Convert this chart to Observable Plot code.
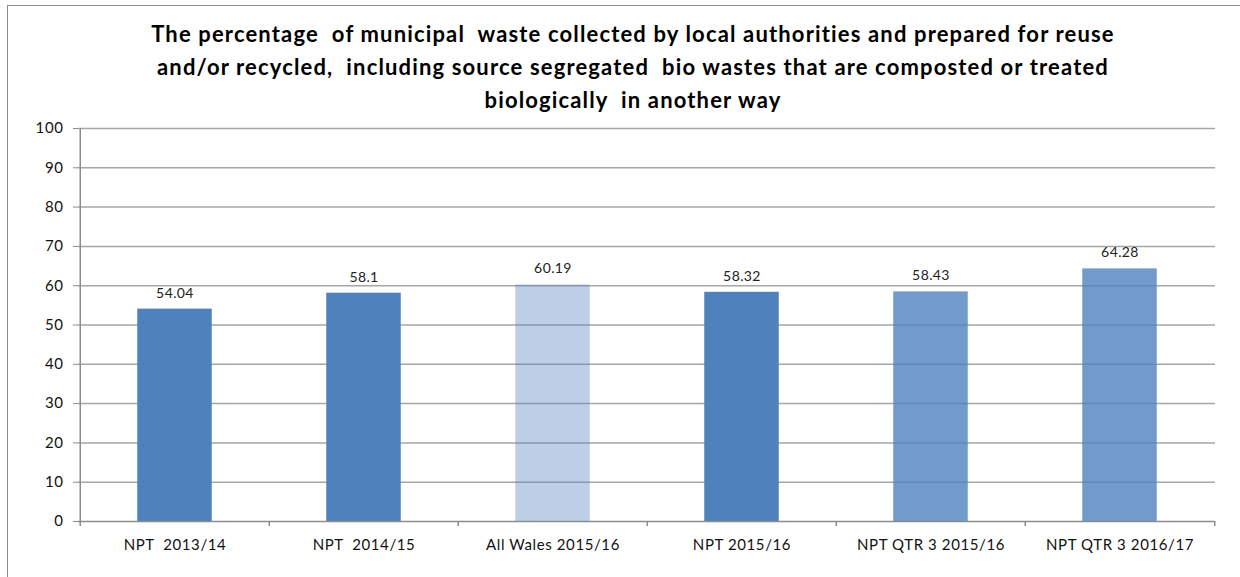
<!DOCTYPE html>
<html>
<head>
<meta charset="utf-8">
<script src="https://cdn.jsdelivr.net/npm/d3@7"></script>
<script src="https://cdn.jsdelivr.net/npm/@observablehq/plot@0.6"></script>
<style>
  html, body { margin: 0; padding: 0; background: #fff; }
  #wrap { position: relative; width: 1240px; height: 577px; overflow: hidden; }
  #frame { position: absolute; left: 7px; top: 5px; width: 1300px; height: 600px;
           border-left: 1px solid #8c8c8c; border-top: 1px solid #8c8c8c; }
  #title { position: absolute; left: 0; top: 17px; width: 1266px; text-align: center; white-space: pre;
           font-family: Lato, sans-serif; font-weight: bold; font-size: 22px; line-height: 33px;
           letter-spacing: 1.15px; color: #000; }
  #chart { position: absolute; left: 0; top: 0; }
  svg text { white-space: pre; }
  .xl text, .yl text { letter-spacing: 0.6px; }
  .vl text { letter-spacing: 0.4px; }
</style>
</head>
<body>
<div id="wrap">
  <div id="frame"></div>
  <div id="chart"></div>
  <div id="title">The percentage  of municipal  waste collected by local authorities and prepared for reuse
and/or recycled,  including source segregated  bio wastes that are composted or treated
biologically  in another way</div>
</div>
<script>
const categories = ["NPT  2013/14", "NPT  2014/15", "All Wales 2015/16", "NPT 2015/16", "NPT QTR 3 2015/16", "NPT QTR 3 2016/17"];
const values = [54.04, 58.1, 60.19, 58.32, 58.43, 64.28];
const groups = ["NPT annual", "NPT annual", "All Wales", "NPT annual", "NPT quarter", "NPT quarter"];
const yTicks = [0, 10, 20, 30, 40, 50, 60, 70, 80, 90, 100];

const data = categories.map((c, i) => ({cat: c, value: values[i], group: groups[i]}));

const W = 1240, H = 577;
const mL = 78, mR = 25, mT = 128, mB = 56;
const bw = (W - mL - mR) / categories.length;
const barW = 75;
const inset = (bw - barW) / 2;
const tickUnits = 5 / ((H - mT - mB) / 100);

const chart = Plot.plot({
  width: W, height: H,
  marginTop: mT, marginBottom: mB, marginLeft: mL, marginRight: mR,
  style: {fontFamily: "Lato, sans-serif", fontSize: "15px", color: "#000", background: "transparent", overflow: "visible"},
  x: {domain: categories, padding: 0, label: null},
  y: {domain: [0, 100], label: null},
  opacity: {type: "ordinal", domain: ["NPT annual", "All Wales", "NPT quarter"], range: [1, 0.38, 0.8]},
  marks: [
    Plot.ruleY(yTicks.filter(t => t > 0), {stroke: "#a6a6a6", strokeWidth: 1.5}),
    Plot.barY(data, {x: "cat", y: "value", fill: "#4F81BD", fillOpacity: "group", insetLeft: inset, insetRight: inset}),
    Plot.ruleY([0], {stroke: "#8c8c8c", strokeWidth: 1.5}),
    Plot.ruleX([categories[0]], {y1: 0, y2: 100, dx: -bw / 2, stroke: "#8c8c8c", strokeWidth: 1.5}),
    Plot.ruleX(categories, {y1: 0, y2: -tickUnits, dx: -bw / 2, stroke: "#8c8c8c", strokeWidth: 1.5, clip: false}),
    Plot.ruleX([categories[categories.length - 1]], {y1: 0, y2: -tickUnits, dx: bw / 2, stroke: "#8c8c8c", strokeWidth: 1.5}),
    Plot.axisY({ticks: yTicks, tickSize: 5, tickPadding: 10, stroke: "#8c8c8c", fill: "#111", fontSize: 15, label: null, className: "yl"}),
    Plot.axisX({tickSize: 0, tickPadding: 18, fill: "#111", fontSize: 15, label: null, className: "xl"}),
    Plot.text(data, {x: "cat", y: "value", text: d => String(d.value), dy: -16, fontSize: 14, fill: "#222", className: "vl"})
  ]
});
document.getElementById("chart").appendChild(chart);
</script>
</body>
</html>
